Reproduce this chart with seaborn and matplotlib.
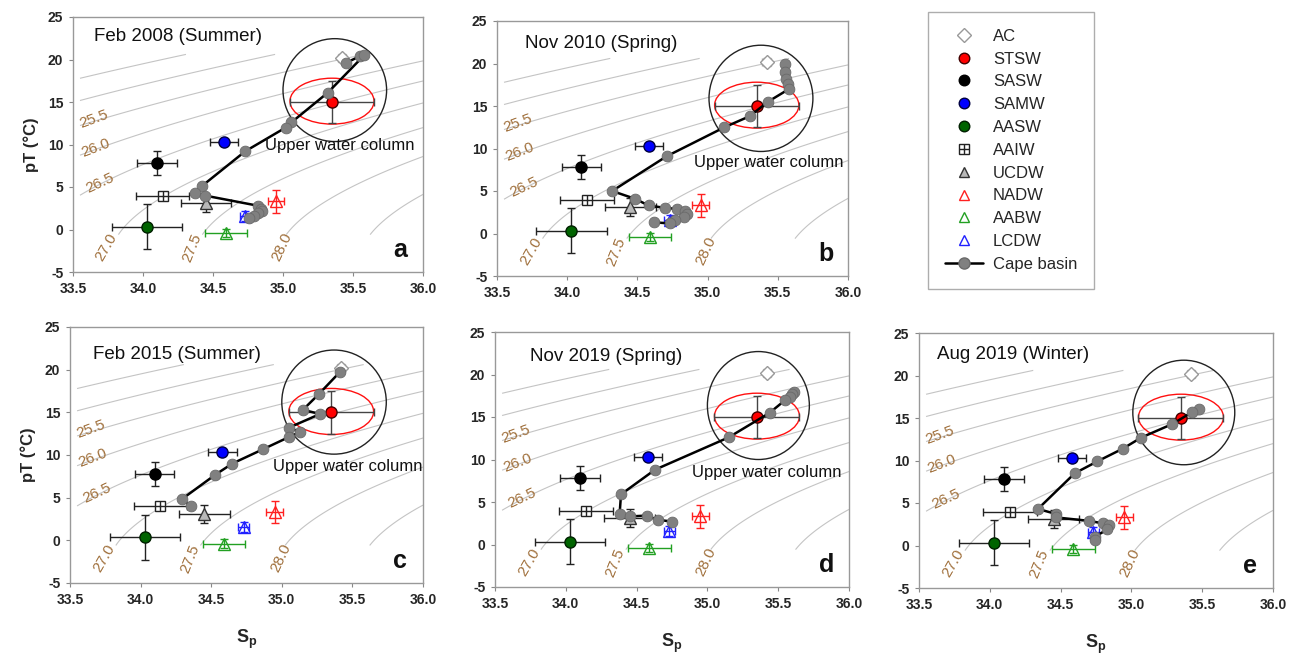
import numpy as np
import pandas as pd
import matplotlib
matplotlib.use('Agg')
import matplotlib.pyplot as plt
import seaborn as sns
from matplotlib.patches import Ellipse
from matplotlib.lines import Line2D
from matplotlib.legend_handler import HandlerTuple

sns.set_theme(style='white')
plt.rcParams['font.family'] = ['Liberation Sans', 'DejaVu Sans']
plt.rcParams['mathtext.fontset'] = 'custom'
plt.rcParams['mathtext.rm'] = 'Liberation Sans'
plt.rcParams['mathtext.bf'] = 'Liberation Sans:bold'

# ---------------- data ----------------
wm_names = ['AC', 'STSW', 'SASW', 'SAMW', 'AASW', 'AAIW', 'UCDW', 'NADW', 'AABW', 'LCDW']
wm_S = [35.42, 35.35, 34.10, 34.58, 34.03, 34.14, 34.45, 34.95, 34.59, 34.73]
wm_T = [20.2, 15.0, 7.8, 10.3, 0.35, 4.0, 3.1, 3.3, -0.4, 1.6]
wm_Serr = [0.03, 0.30, 0.14, 0.10, 0.25, 0.19, 0.18, 0.06, 0.15, 0.04]
wm_Terr = [0.5, 2.5, 1.4, 0.3, 2.65, 0.4, 1.05, 1.3, 0.5, 0.6]

panel_titles = ['Feb 2008 (Summer)', 'Nov 2010 (Spring)', 'Feb 2015 (Summer)',
                'Nov 2019 (Spring)', 'Aug 2019 (Winter)']
panel_letters = ['a', 'b', 'c', 'd', 'e']

a_S = [35.45, 35.55, 35.58, 35.32, 35.06, 35.02, 34.73, 34.42, 34.37, 34.44, 34.82, 34.84, 34.85, 34.82, 34.79, 34.76]
a_T = [19.6, 20.4, 20.5, 16.1, 12.6, 12.0, 9.2, 5.1, 4.35, 4.0, 2.8, 2.4, 2.2, 1.9, 1.6, 1.3]
b_S = [35.55, 35.55, 35.56, 35.57, 35.58, 35.43, 35.30, 35.12, 34.71, 34.32, 34.48, 34.58, 34.70, 34.78, 34.84, 34.85, 34.83, 34.77, 34.73, 34.62]
b_T = [20.0, 19.0, 18.2, 17.6, 17.0, 15.5, 13.8, 12.5, 9.1, 5.0, 4.1, 3.3, 3.0, 2.9, 2.7, 2.3, 2.0, 1.6, 1.2, 1.3]
c_S = [35.41, 35.26, 35.15, 35.27, 35.05, 35.13, 35.05, 34.87, 34.65, 34.53, 34.29, 34.36]
c_T = [19.7, 17.1, 15.3, 14.8, 13.2, 12.7, 12.1, 10.7, 9.0, 7.7, 4.8, 4.0]
d_S = [35.61, 35.60, 35.58, 35.55, 35.44, 35.15, 34.63, 34.39, 34.38, 34.45, 34.57, 34.65, 34.75]
d_T = [17.9, 17.7, 17.4, 17.0, 15.5, 12.6, 8.8, 5.9, 3.6, 3.3, 3.4, 2.9, 2.7]
e_S = [35.48, 35.43, 35.29, 35.07, 34.94, 34.76, 34.60, 34.34, 34.47, 34.47, 34.70, 34.80, 34.84, 34.83, 34.74, 34.74]
e_T = [16.1, 15.7, 14.3, 12.7, 11.4, 9.9, 8.5, 4.3, 3.7, 3.3, 2.9, 2.6, 2.4, 1.9, 1.0, 0.7]
profiles_S = [a_S, b_S, c_S, d_S, e_S]
profiles_T = [a_T, b_T, c_T, d_T, e_T]

isopycnal_labels = ['25.5', '26.0', '26.5', '27.0', '27.5', '28.0']

x_ticks = [33.5, 34.0, 34.5, 35.0, 35.5, 36.0]
y_ticks = [-5, 0, 5, 10, 15, 20, 25]


# ---------------- density field (EOS-80, p = 0) ----------------
def sigma0(S, T):
    rw = (999.842594 + 6.793952e-2 * T - 9.095290e-3 * T**2 + 1.001685e-4 * T**3
          - 1.120083e-6 * T**4 + 6.536332e-9 * T**5)
    A = 0.824493 - 4.0899e-3 * T + 7.6438e-5 * T**2 - 8.2467e-7 * T**3 + 5.3875e-9 * T**4
    B = -5.72466e-3 + 1.0227e-4 * T - 1.6546e-6 * T**2
    C = 4.8314e-4
    return rw + A * S + B * S**1.5 + C * S**2 - 1000.0


gS, gT = np.meshgrid(np.linspace(33.55, 36.0, 300), np.linspace(-0.6, 20.6, 300))
gSig = sigma0(34.84 + 1.237 * (gS - 35.03), gT)
sig_levels = [23.8, 24.4, 25.0, 25.6, 26.2, 26.8, 27.4, 28.0, 28.6]

# ---------------- layout ----------------
W, H = 1299, 654
fig = plt.figure(figsize=(W / 100, H / 100), dpi=100)


def px_axes(l, t, r, b):
    return fig.add_axes([l / W, 1 - b / H, (r - l) / W, (b - t) / H])


boxes = [(73, 17, 423, 272), (497, 21, 848, 276), (70, 327, 423, 583),
         (495, 332, 849, 587), (919, 333, 1273, 588)]
title_pos = [(33.65, 22.7), (33.70, 22.3), (33.66, 21.8), (33.75, 22.1), (33.63, 22.5)]
uwc_pos = [(34.87, 9.9), (34.90, 8.35), (34.94, 8.7), (34.89, 8.45), None]
circ = [(35.37, 16.4, 0.37, 6.05), (35.38, 15.9, 0.37, 6.25), (35.37, 16.2, 0.37, 6.1),
        (35.36, 16.35, 0.36, 6.35), (35.37, 15.65, 0.36, 6.15)]
iso_lab_pos = [(33.65, 13.0, 20), (33.66, 9.6, 21), (33.69, 5.5, 25),
               (33.74, -2.1, 60), (34.35, -2.2, 68), (34.99, -2.0, 65)]

wm_style = {
    'AC':   dict(marker='D', mfc='white', mec='#999999', ms=7, ecol='#aaaaaa'),
    'STSW': dict(marker='o', mfc='#ff0000', mec='#400000', ms=8, ecol='#444444'),
    'SASW': dict(marker='o', mfc='#000000', mec='#000000', ms=8, ecol='#222222'),
    'SAMW': dict(marker='o', mfc='#0000ff', mec='#000040', ms=8, ecol='#222222'),
    'AASW': dict(marker='o', mfc='#006400', mec='#002000', ms=8, ecol='#222222'),
    'AAIW': dict(marker='s', mfc='white', mec='#222222', ms=7, ecol='#222222'),
    'UCDW': dict(marker='^', mfc='#b8b8b8', mec='#333333', ms=8, ecol='#222222'),
    'NADW': dict(marker='^', mfc='none', mec='#ff2020', ms=8, ecol='#ff2020'),
    'AABW': dict(marker='^', mfc='none', mec='#22a022', ms=8, ecol='#22a022'),
    'LCDW': dict(marker='^', mfc='none', mec='#2020ff', ms=8, ecol='#2020ff'),
}

brown = '#a0703c'
axes = []
for i in range(5):
    ax = px_axes(*boxes[i])
    axes.append(ax)
    ax.set_xlim(33.5, 36.0)
    ax.set_ylim(-5, 25)
    # isopycnals
    ax.contour(gS, gT, gSig, levels=sig_levels, colors='#c4c4c4', linewidths=0.8, zorder=1)
    for lab, (lx, ly, rot) in zip(isopycnal_labels, iso_lab_pos):
        ax.text(lx, ly, lab, color=brown, fontsize=11, rotation=rot, ha='center', va='center',
                rotation_mode='anchor', zorder=2)
    # circle & ellipse
    cx, cy, rx, ry = circ[i]
    ax.add_patch(Ellipse((cx, cy), 2 * rx, 2 * ry, fill=False, ec='#222222', lw=1.0, zorder=3))
    ax.add_patch(Ellipse((wm_S[1], wm_T[1] + 0.1), 0.6, 5.4, fill=False, ec='#ff1010', lw=1.0, zorder=3))
    # water masses
    for name, s, t, se, te in zip(wm_names, wm_S, wm_T, wm_Serr, wm_Terr):
        st = wm_style[name]
        ax.errorbar(s, t, xerr=se, yerr=te, fmt='none', ecolor=st['ecol'], elinewidth=1.0,
                    capsize=3, capthick=1.0, zorder=4)
        ax.plot(s, t, linestyle='none', marker=st['marker'], mfc=st['mfc'], mec=st['mec'],
                ms=st['ms'], mew=1.0, zorder=5)
        if name == 'AAIW':
            ax.plot(s, t, linestyle='none', marker='+', color='#222222', ms=7, mew=1.0, zorder=5)
    # Cape basin profile
    df = pd.DataFrame({'S': profiles_S[i], 'T': profiles_T[i]})
    sns.lineplot(data=df, x='S', y='T', sort=False, estimator=None, color='black', lw=1.8,
                 ax=ax, zorder=6)
    sns.scatterplot(data=df, x='S', y='T', color='#808080', edgecolor='#6a6a6a', linewidth=0.6,
                    s=60, ax=ax, zorder=7)
    # texts
    ax.text(title_pos[i][0], title_pos[i][1], panel_titles[i], fontsize=13.5, ha='left',
            va='center', color='#111111', zorder=8)
    if uwc_pos[i] is not None:
        ax.text(uwc_pos[i][0], uwc_pos[i][1], 'Upper water column', fontsize=12, ha='left',
                va='center', color='#111111', zorder=8)
    ax.text(35.84, -2.4, panel_letters[i], fontsize=18, fontweight='bold', ha='center',
            va='center', color='#111111', zorder=8)
    # axes styling
    ax.set_xticks(x_ticks)
    ax.set_xticklabels([f'{v:.1f}' for v in x_ticks])
    ax.set_yticks(y_ticks)
    ax.set_yticklabels([str(v) for v in y_ticks])
    ax.tick_params(axis='both', direction='out', length=3, width=0.8, color='#888888',
                   labelsize=10, pad=4, bottom=True, left=True)
    for lbl in ax.get_xticklabels() + ax.get_yticklabels():
        lbl.set_fontweight('bold')
    for sp in ax.spines.values():
        sp.set_color('#999999')
        sp.set_linewidth(1.0)
    ax.set_xlabel('')
    ax.set_ylabel('')
    if i in (0, 2):
        ax.set_ylabel('pT (°C)', fontsize=12, fontweight='bold', labelpad=6)
    if i in (2, 3, 4):
        ax.set_xlabel(r'$\mathbf{S}_\mathbf{p}$', fontsize=13, labelpad=15)

# ---------------- legend ----------------
handles = []
for name in wm_names:
    st = wm_style[name]
    h = Line2D([], [], linestyle='none', marker=st['marker'], mfc=st['mfc'], mec=st['mec'],
               ms=st['ms'] * 0.95, mew=1.0)
    if name == 'AAIW':
        h = (Line2D([], [], linestyle='none', marker='s', mfc='white', mec='#222222', ms=7, mew=1.0),
             Line2D([], [], linestyle='none', marker='+', color='#222222', ms=7, mew=1.0))
    handles.append(h)
handles.append(Line2D([], [], color='black', lw=1.8, marker='o', mfc='#808080', mec='#6a6a6a', ms=8))
labels = wm_names + ['Cape basin']
leg = fig.legend(handles, labels, loc='upper left', bbox_to_anchor=(928 / W, 1 - 12 / H),
                 borderaxespad=0, fontsize=12, frameon=True, fancybox=False, edgecolor='#999999',
                 borderpad=1.0, labelspacing=0.47, handlelength=2.3, handletextpad=0.6,
                 handler_map={tuple: HandlerTuple(ndivide=1, pad=0)})
leg.get_frame().set_linewidth(1.0)

fig.savefig('out.png', dpi=100, facecolor='white')
